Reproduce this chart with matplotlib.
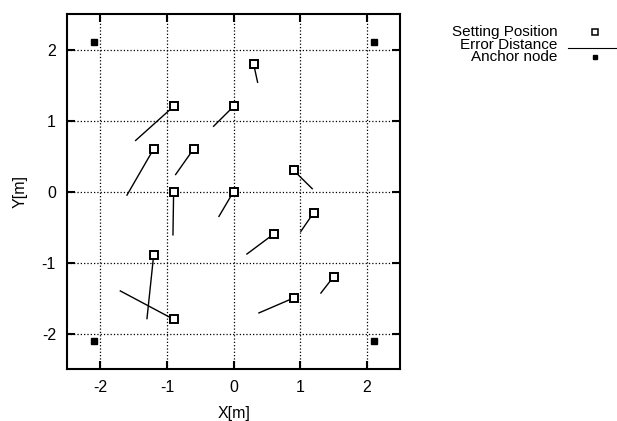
import matplotlib
matplotlib.use("Agg")
from matplotlib import pyplot as plt
from matplotlib.lines import Line2D

plt.rcParams['font.family'] = ['Liberation Sans', 'DejaVu Sans']
plt.rcParams['axes.unicode_minus'] = False

# setting positions (squares) and estimated positions (line ends)
SET_X = [0.3, -0.9, 0.0, -1.2, -0.6, 0.9, -0.9, 0.0, 1.2, 0.6, -1.2, -0.9, 0.9, 1.5]
SET_Y = [1.8, 1.2, 1.2, 0.6, 0.6, 0.3, 0.0, 0.0, -0.3, -0.6, -0.9, -1.8, -1.5, -1.2]
EST_X = [0.36, -1.47, -0.3, -1.6, -0.87, 1.18, -0.91, -0.22, 1.01, 0.2, -1.3, -1.7, 0.38, 1.31]
EST_Y = [1.54, 0.72, 0.92, -0.05, 0.24, 0.04, -0.61, -0.35, -0.56, -0.88, -1.79, -1.4, -1.71, -1.43]

ANCHOR_X = [-2.1, 2.1, -2.1, 2.1]
ANCHOR_Y = [2.1, 2.1, -2.1, -2.1]

TICKS = [-2, -1, 0, 1, 2]

if __name__ == "__main__":
    fig = plt.figure(figsize=(6.17, 4.21), dpi=100)
    ax = fig.add_axes([0.1086, 0.1235, 0.540, 0.843])

    # error lines
    for sx, sy, ex, ey in zip(SET_X, SET_Y, EST_X, EST_Y):
        ax.plot([sx, ex], [sy, ey], color='black', linewidth=1, zorder=2)

    ax.plot(SET_X, SET_Y, linestyle='none', marker='s', markersize=6,
            markerfacecolor='white', markeredgecolor='black',
            markeredgewidth=1.4, zorder=3)
    ax.plot(ANCHOR_X, ANCHOR_Y, linestyle='none', marker='s', markersize=4,
            color='black', zorder=3)

    ax.set_xlim(-2.5, 2.5)
    ax.set_ylim(-2.5, 2.5)
    ax.set_xticks(TICKS)
    ax.set_yticks(TICKS)
    ax.grid(True, color='black', linestyle=':', linewidth=0.9)
    ax.tick_params(direction='in', top=True, right=True, length=6,
                   width=1.5, labelsize=11.5, pad=8)
    for s in ax.spines.values():
        s.set_linewidth(1.5)
    ax.set_xlabel('X[m]', fontsize=11.5, labelpad=8)
    ax.set_ylabel('Y[m]', fontsize=11.5, labelpad=10)

    # gnuplot-like key, right-aligned text
    labels = ['Setting Position', 'Error Distance', 'Anchor node']
    ys = [0.924, 0.894, 0.864]
    for lab, y in zip(labels, ys):
        fig.text(0.904, y, lab, ha='right', va='center', fontsize=11)
    fig.add_artist(Line2D([0.964], [ys[0]], marker='s', markersize=4,
                          markerfacecolor='white', markeredgecolor='black',
                          markeredgewidth=1.1, transform=fig.transFigure))
    fig.add_artist(Line2D([0.921, 1.0], [ys[1] - 0.008, ys[1] - 0.008],
                          color='black', linewidth=0.8, transform=fig.transFigure))
    fig.add_artist(Line2D([0.964], [ys[2]], marker='s', markersize=3.5,
                          color='black', transform=fig.transFigure))

    fig.savefig('out.png', dpi=100)
